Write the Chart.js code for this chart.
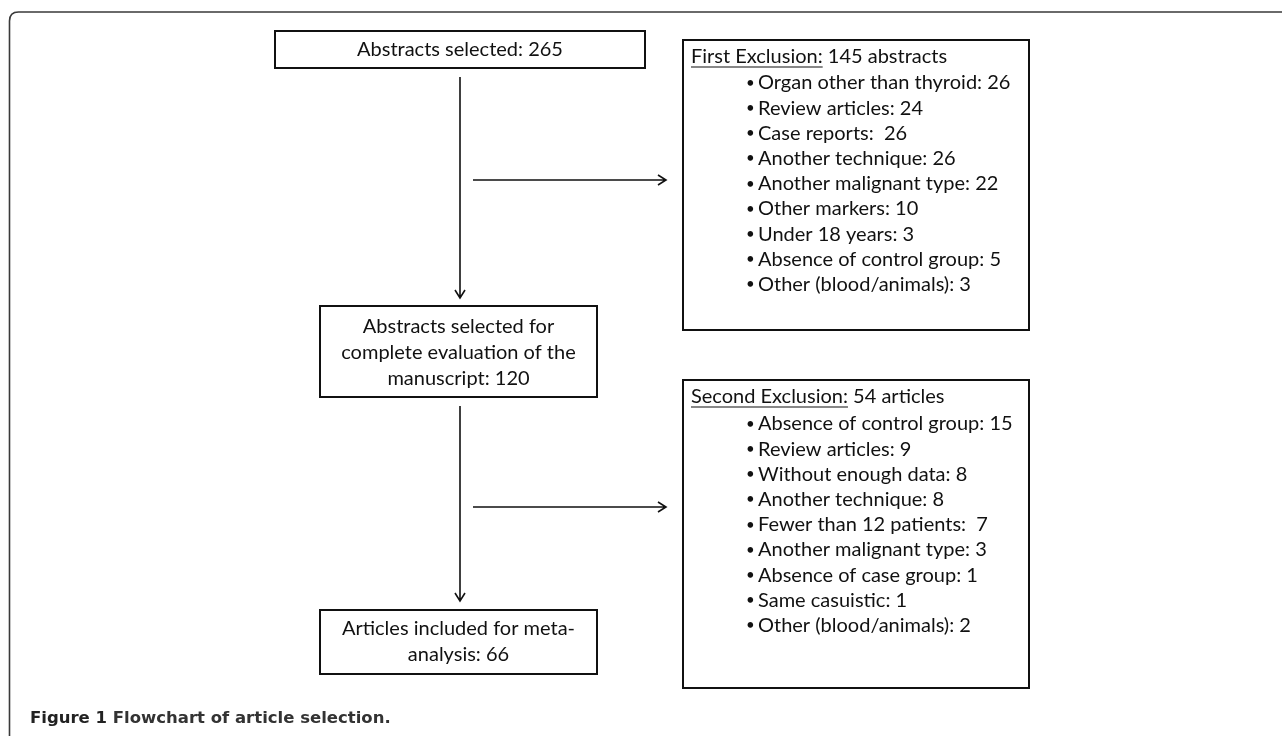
<!DOCTYPE html>
<html>
<head>
<meta charset="utf-8">
<script src="https://cdn.jsdelivr.net/npm/chart.js@4"></script>
<style>
  html, body { margin: 0; padding: 0; background: #fff; }
  canvas { display: block; }
</style>
</head>
<body>
<canvas id="c" width="1282" height="736"></canvas>
<script>
// ---- DATA ----
const stageLabels = ['Abstracts selected', 'Abstracts selected for complete evaluation of the manuscript', 'Articles included for meta-analysis'];
const stageCounts = [265, 120, 66];
const exclusionTitles = ['First Exclusion:', 'Second Exclusion:'];
const exclusionTotals = [145, 54];
const exclusionUnits = ['abstracts', 'articles'];
const exclusion1Reasons = ['Organ other than thyroid', 'Review articles', 'Case reports', 'Another technique', 'Another malignant type', 'Other markers', 'Under 18 years', 'Absence of control group', 'Other (blood/animals)'];
const exclusion1Counts = [26, 24, 26, 26, 22, 10, 3, 5, 3];
const exclusion2Reasons = ['Absence of control group', 'Review articles', 'Without enough data', 'Another technique', 'Fewer than 12 patients', 'Another malignant type', 'Absence of case group', 'Same casuistic', 'Other (blood/animals)'];
const exclusion2Counts = [15, 9, 8, 8, 7, 3, 1, 1, 2];
const captionBold = 'Figure 1';
const captionText = 'Flowchart of article selection.';

// ---- LAYOUT (in the hidden scale units) ----
const stageBoxes = [
  {x0: 275, x1: 645, y0: 31, y1: 68, lines: [stageLabels[0] + ': ' + stageCounts[0]], ly: [50]},
  {x0: 320, x1: 597, y0: 306, y1: 397, lines: ['Abstracts selected for', 'complete evaluation of the', 'manuscript: ' + stageCounts[1]], ly: [327, 353, 379]},
  {x0: 320, x1: 597, y0: 610, y1: 674, lines: ['Articles included for meta-', 'analysis: ' + stageCounts[2]], ly: [629, 655]}
];
const exclBoxes = [
  {x0: 683, x1: 1029, y0: 40, y1: 330, ty: 57, itemY0: 83, step: 25.2, reasons: exclusion1Reasons, counts: exclusion1Counts, sep: [': ', ': ', ':  ', ': ', ': ', ': ', ': ', ': ', ': ']},
  {x0: 683, x1: 1029, y0: 380, y1: 688, ty: 397, itemY0: 424, step: 25.2, reasons: exclusion2Reasons, counts: exclusion2Counts, sep: [': ', ': ', ': ', ': ', ':  ', ': ', ': ', ': ', ': ']}
];
const vArrows = [{x: 460, y0: 77, y1: 298}, {x: 460, y0: 406, y1: 601}];
const hArrows = [{y: 180, x0: 473, x1: 666}, {y: 507, x0: 473, x1: 666}];

const FONT = 'Lato, "Open Sans", sans-serif';
const FS = 20;

const flowPlugin = {
  id: 'flow',
  afterDraw(chart) {
    const ctx = chart.ctx;
    const X = v => chart.scales.x.getPixelForValue(v);
    const Y = v => chart.scales.y.getPixelForValue(v);
    ctx.save();
    ctx.fillStyle = '#fff';
    ctx.fillRect(0, 0, chart.width, chart.height);

    // frame
    ctx.strokeStyle = '#3a3a3a';
    ctx.lineWidth = 1.6;
    ctx.beginPath();
    const fx = X(9.5), fy = Y(12), r = 9;
    ctx.moveTo(fx, Y(736));
    ctx.lineTo(fx, fy + r);
    ctx.quadraticCurveTo(fx, fy, fx + r, fy);
    ctx.lineTo(X(1282), fy);
    ctx.stroke();

    ctx.fillStyle = '#111';
    ctx.strokeStyle = '#111';
    ctx.font = FS + 'px ' + FONT;
    ctx.textBaseline = 'middle';

    // stage boxes
    stageBoxes.forEach(b => {
      ctx.lineWidth = 2;
      ctx.strokeRect(X(b.x0), Y(b.y0), X(b.x1) - X(b.x0), Y(b.y1) - Y(b.y0));
      ctx.textAlign = 'center';
      const cx = X((b.x0 + b.x1) / 2);
      b.lines.forEach((t, i) => ctx.fillText(t, cx, Y(b.ly[i])));
    });

    // exclusion boxes
    exclBoxes.forEach((b, k) => {
      ctx.lineWidth = 2;
      ctx.strokeRect(X(b.x0), Y(b.y0), X(b.x1) - X(b.x0), Y(b.y1) - Y(b.y0));
      ctx.textAlign = 'left';
      const tx = X(b.x0 + 8);
      const title = exclusionTitles[k];
      ctx.fillText(title, tx, Y(b.ty));
      const tw = ctx.measureText(title).width;
      ctx.lineWidth = 1.2;
      ctx.beginPath();
      ctx.moveTo(tx, Y(b.ty + 10));
      ctx.lineTo(tx + tw, Y(b.ty + 10));
      ctx.stroke();
      ctx.fillText(' ' + exclusionTotals[k] + ' ' + exclusionUnits[k], tx + tw, Y(b.ty));
      b.reasons.forEach((r2, i) => {
        const y = Y(b.itemY0 + i * b.step);
        ctx.font = (FS - 5) + 'px ' + FONT;
        ctx.fillText('\u2022', X(b.x0 + 63), y);
        ctx.font = FS + 'px ' + FONT;
        ctx.fillText(r2 + b.sep[i] + b.counts[i], X(b.x0 + 75), y);
      });
    });

    // arrows
    ctx.lineWidth = 1.6;
    ctx.strokeStyle = '#111';
    vArrows.forEach(a => {
      ctx.beginPath();
      ctx.moveTo(X(a.x), Y(a.y0));
      ctx.lineTo(X(a.x), Y(a.y1));
      ctx.moveTo(X(a.x - 5), Y(a.y1 - 8));
      ctx.lineTo(X(a.x), Y(a.y1));
      ctx.lineTo(X(a.x + 5), Y(a.y1 - 8));
      ctx.stroke();
    });
    hArrows.forEach(a => {
      ctx.beginPath();
      ctx.moveTo(X(a.x0), Y(a.y));
      ctx.lineTo(X(a.x1), Y(a.y));
      ctx.moveTo(X(a.x1 - 8), Y(a.y - 5));
      ctx.lineTo(X(a.x1), Y(a.y));
      ctx.lineTo(X(a.x1 - 8), Y(a.y + 5));
      ctx.stroke();
    });

    // caption
    ctx.textAlign = 'left';
    ctx.fillStyle = '#222';
    ctx.font = 'bold 16.5px "DejaVu Sans", sans-serif';
    ctx.fillText(captionBold, X(30), Y(719));
    const cw = ctx.measureText(captionBold + ' ').width;
    ctx.fillStyle = '#333';
    ctx.fillText(captionText, X(30) + cw, Y(719));
    ctx.restore();
  }
};

function build() {
  new Chart(document.getElementById('c'), {
    type: 'scatter',
    data: { datasets: [{ data: [], pointRadius: 0 }] },
    options: {
      responsive: false,
      animation: false,
      devicePixelRatio: 1,
      layout: { padding: 0 },
      plugins: { legend: { display: false }, tooltip: { enabled: false } },
      scales: {
        x: { type: 'linear', min: 0, max: 1282, display: false },
        y: { type: 'linear', min: 0, max: 736, reverse: true, display: false }
      }
    },
    plugins: [flowPlugin]
  });
}
Promise.all([
  document.fonts.load('20px Lato'),
  document.fonts.load('bold 16px "DejaVu Sans"')
]).then(build, build);
</script>
</body>
</html>
